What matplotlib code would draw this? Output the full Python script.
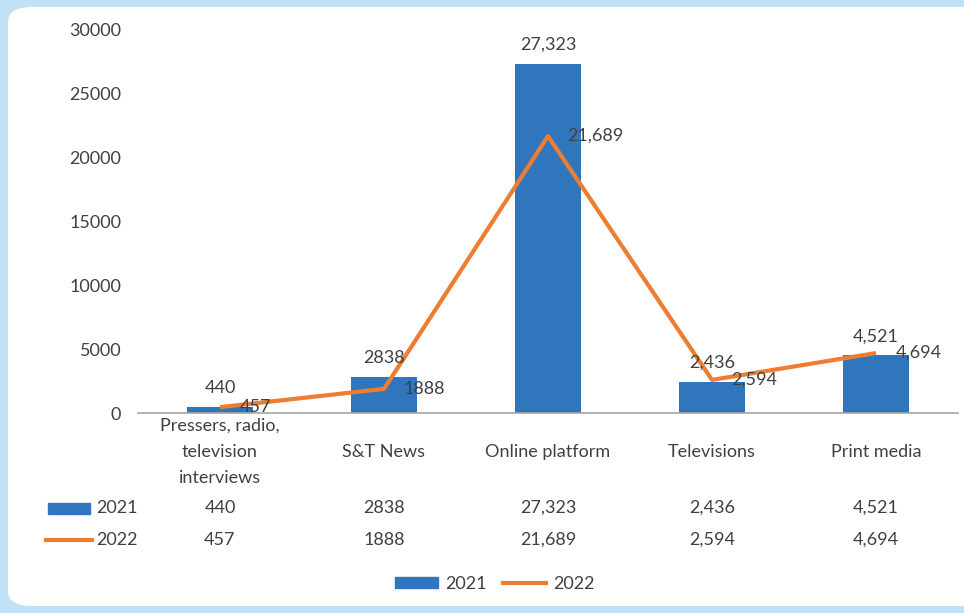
import matplotlib.pyplot as plt
from matplotlib.patches import FancyBboxPatch, Rectangle, Patch
from matplotlib.lines import Line2D
from matplotlib.transforms import blended_transform_factory

categories = ["Pressers, radio,\ntelevision\ninterviews", "S&T News",
              "Online platform", "Televisions", "Print media"]
v2021 = [440, 2838, 27323, 2436, 4521]
v2022 = [457, 1888, 21689, 2594, 4694]
lab2021 = ["440", "2838", "27,323", "2,436", "4,521"]
lab2022 = ["457", "1888", "21,689", "2,594", "4,694"]
yticks = [0, 5000, 10000, 15000, 20000, 25000, 30000]

BLUE = "#2F76BD"
ORANGE = "#ED7D31"
TXT = "#404040"
W, H = 964, 613

plt.rcParams['font.family'] = ['Lato', 'DejaVu Sans']
plt.rcParams['font.size'] = 13

fig = plt.figure(figsize=(W / 100, H / 100), dpi=100, facecolor="#bfe2f7")

# white rounded panel
panel = FancyBboxPatch((8 / W, 1 - 606 / H), (W + 30) / W, 599 / H,
                       boxstyle="round,pad=0,rounding_size=0.025",
                       transform=fig.transFigure, facecolor="white",
                       edgecolor="none", zorder=-10)
fig.patches.append(panel)

def fy(py):
    return 1 - py / H

ax = fig.add_axes([138 / W, fy(413), (958 - 138) / W, (413 - 30) / H])
ax.set_facecolor("none")
ax.set_zorder(2)

x = list(range(len(categories)))
ax.bar(x, v2021, width=0.4, color=BLUE, zorder=2)
ax.plot(x, v2022, color=ORANGE, lw=3, zorder=3, solid_capstyle="butt")

for xi, v, s in zip(x, v2021, lab2021):
    ax.annotate(s, (xi, v), xytext=(0, 8), textcoords="offset points",
                ha="center", va="bottom", color=TXT, zorder=4)
for xi, v, s in zip(x, v2022, lab2022):
    ax.annotate(s, (xi, v), xytext=(14, 0), textcoords="offset points",
                ha="left", va="center", color=TXT, zorder=4)

ax.set_xlim(-0.5, 4.5)
ax.set_ylim(0, 30000)
ax.set_yticks(yticks)
ax.set_yticklabels([str(t) for t in yticks])
ax.set_xticks(x)
ax.set_xticklabels(categories, linespacing=1.8)
for lbl in ax.get_xticklabels():
    lbl.set_va("center")
ax.tick_params(axis="x", length=0, pad=28, colors=TXT)
ax.tick_params(axis="y", length=0, pad=12, colors=TXT)
for side in ["top", "right", "left"]:
    ax.spines[side].set_visible(False)
ax.spines["bottom"].set_color("#a6a6a6")
ax.spines["bottom"].set_linewidth(1.2)

# data table below the chart
tr = blended_transform_factory(ax.transData, fig.transFigure)
for xi, s in zip(x, lab2021):
    ax.text(xi, fy(508), s, transform=tr, ha="center", va="center", color=TXT)
for xi, s in zip(x, lab2022):
    ax.text(xi, fy(540), s, transform=tr, ha="center", va="center", color=TXT)

fig.patches.append(Rectangle((48 / W, fy(514)), 42 / W, 11 / H,
                             transform=fig.transFigure, color=BLUE))
fig.lines.append(Line2D([46 / W, 92 / W], [fy(540), fy(540)],
                        transform=fig.transFigure, color=ORANGE, lw=3))
fig.text(96 / W, fy(508), "2021", ha="left", va="center", color=TXT)
fig.text(96 / W, fy(540), "2022", ha="left", va="center", color=TXT)

handles = [Patch(color=BLUE, label="2021"),
           Line2D([], [], color=ORANGE, lw=3, label="2022")]
fig.legend(handles=handles, loc="center", bbox_to_anchor=(495 / W, fy(584)),
           ncol=2, frameon=False, handlelength=2.4, handleheight=0.6,
           handletextpad=0.4, columnspacing=0.9, labelcolor=TXT)

fig.savefig("out.png", dpi=100, facecolor=fig.get_facecolor())
